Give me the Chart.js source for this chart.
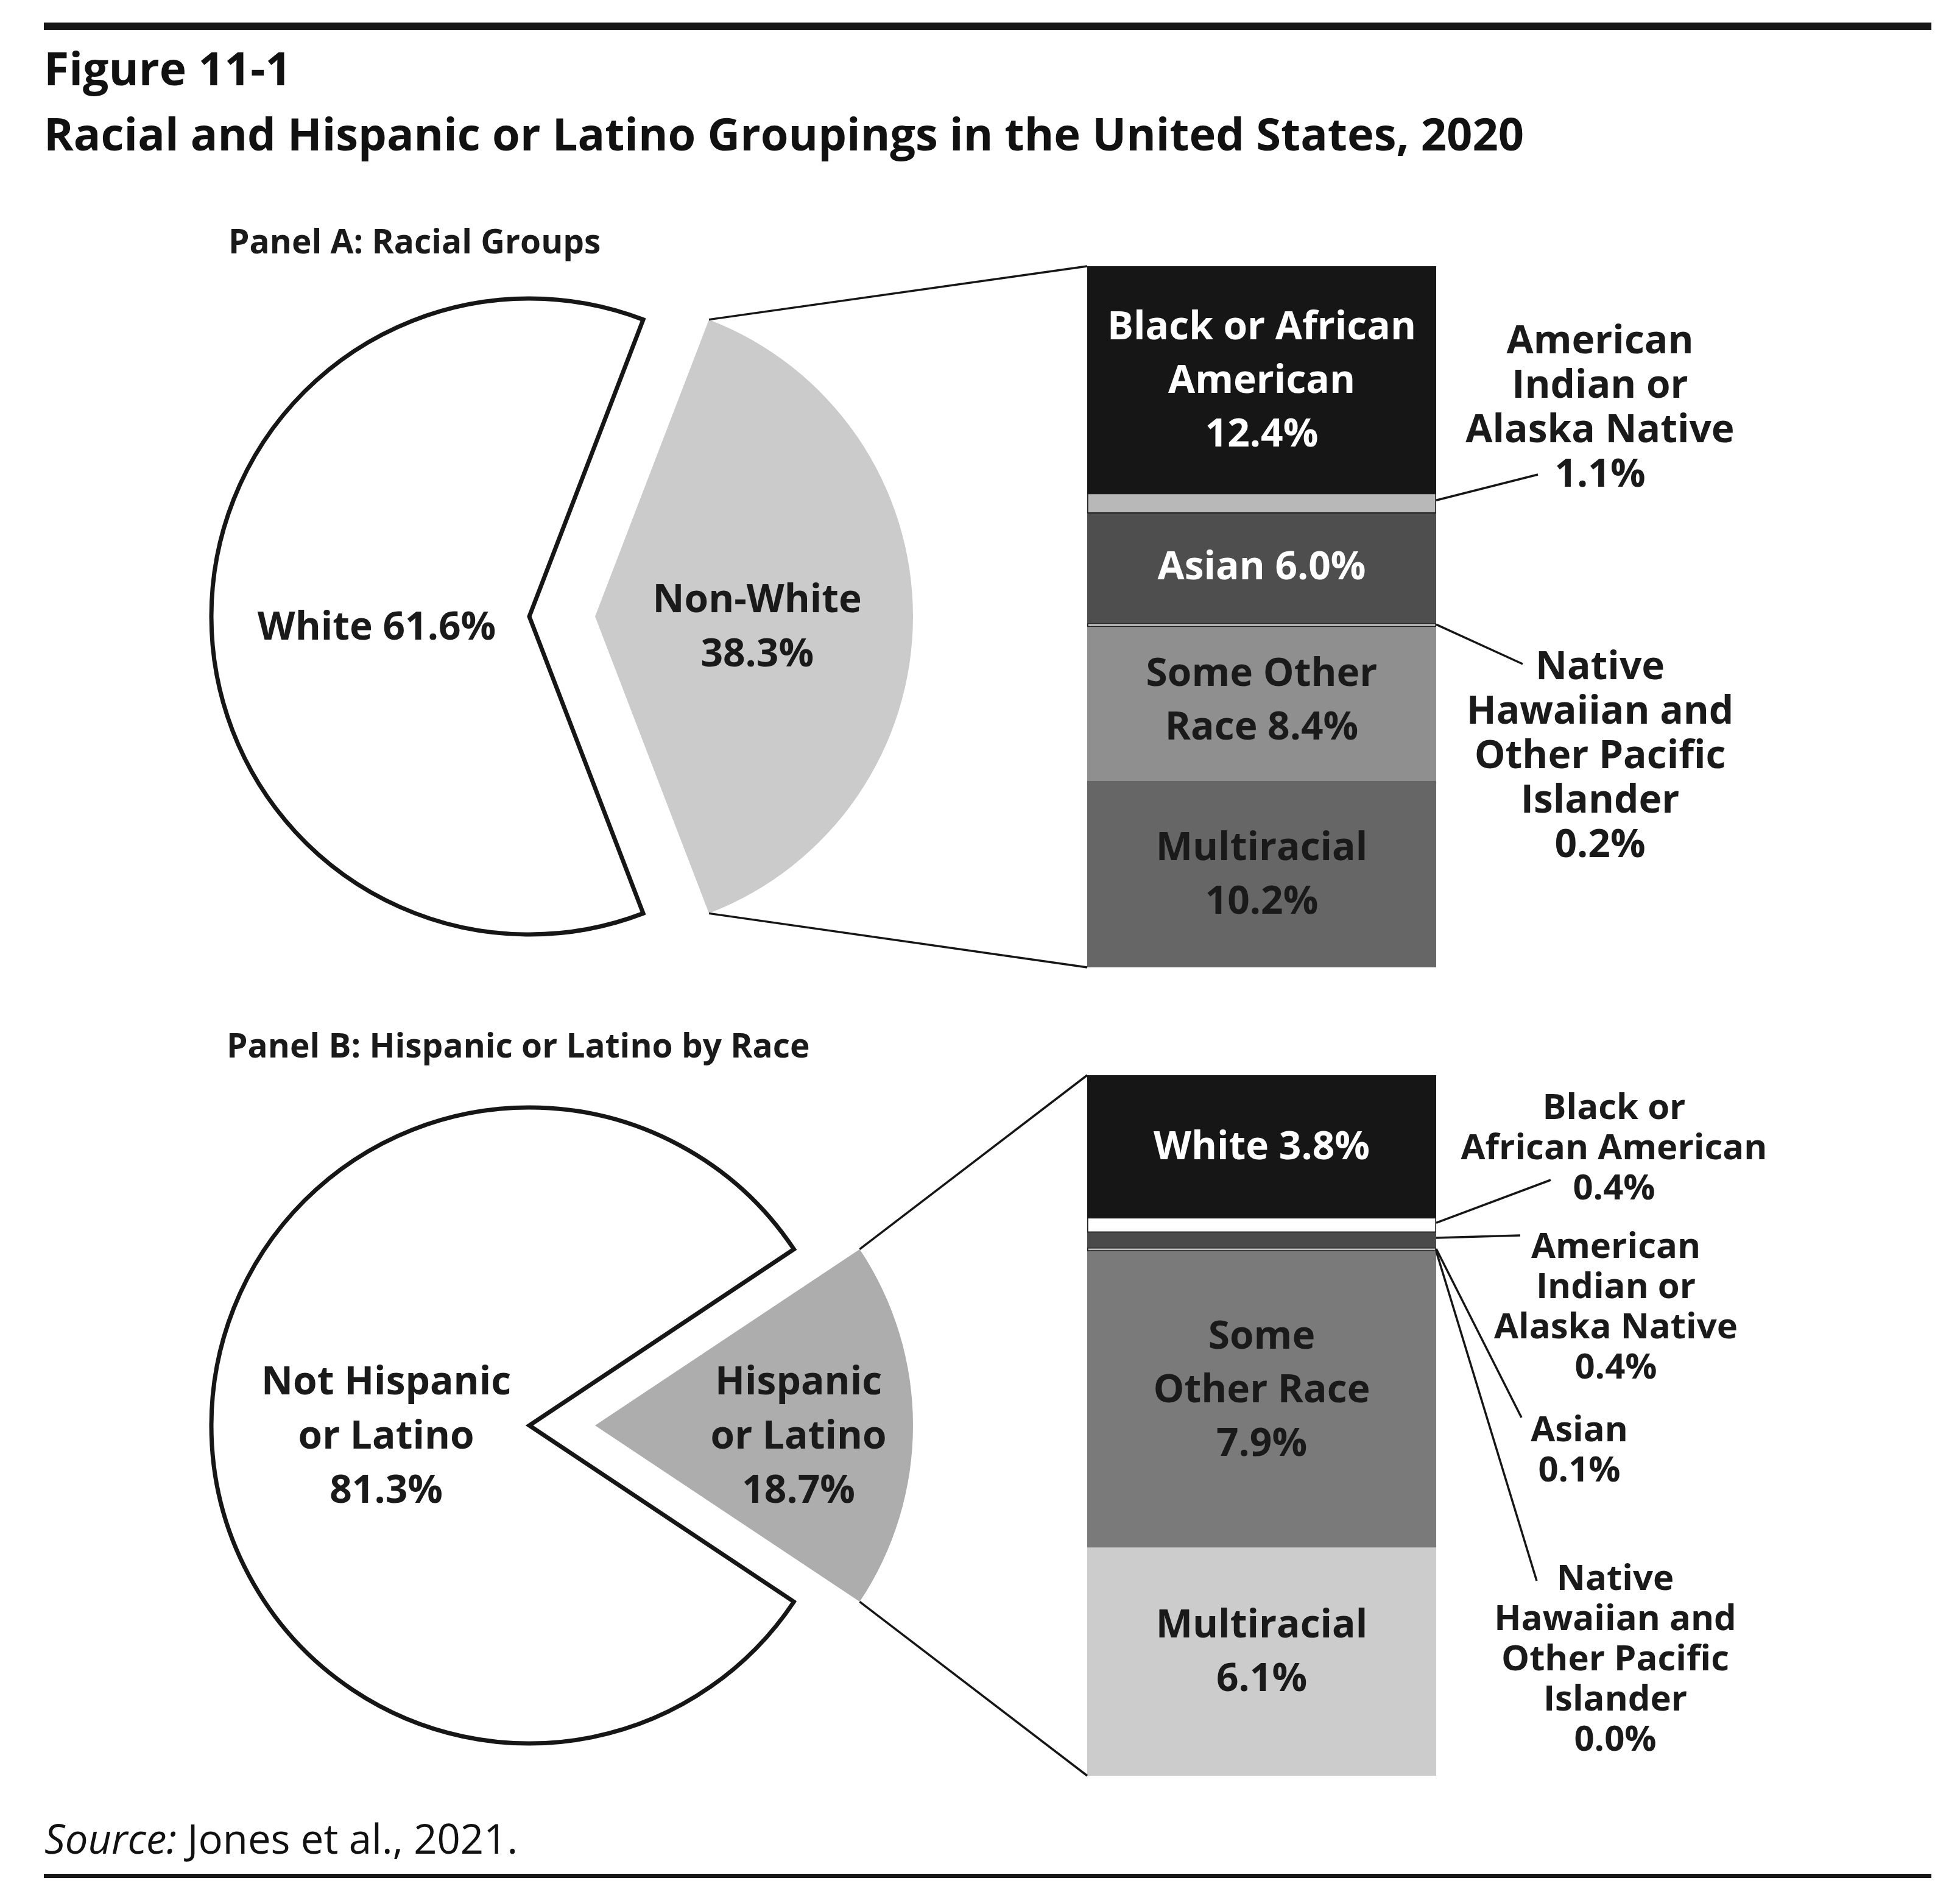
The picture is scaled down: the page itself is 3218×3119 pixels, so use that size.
<!DOCTYPE html>
<html>
<head>
<meta charset="utf-8">
<script src="https://cdn.jsdelivr.net/npm/chart.js@4.4.1/dist/chart.umd.min.js"></script>
<style>
  html, body { margin: 0; padding: 0; background: #fff; }
  body { width: 3218px; height: 3119px; position: relative; overflow: hidden;
         font-family: "Open Sans", "Noto Sans", sans-serif; color: #1a1a1a; }
  canvas { position: absolute; }
  .rule { position: absolute; left: 72px; width: 3099px; background: #161616; }
  .txt { position: absolute; white-space: pre; z-index: 5; }
</style>
</head>
<body>
<div class="rule" style="top:37px;height:12px"></div>
<div class="rule" style="top:3076px;height:7px"></div>

<canvas id="barA" width="573" height="1151" style="left:1785px;top:437px"></canvas>
<canvas id="barB" width="573" height="1150" style="left:1785px;top:1765px"></canvas>
<canvas id="overlay" width="3218" height="3119" style="left:0;top:0;z-index:3"></canvas>

<script>
// ---- data (percent of US population, 2020) ----
const raceGroups = ["White", "Non-White"];
const raceShares = [61.6, 38.3];

const nonWhiteGroups = ["Black or African American", "American Indian or Alaska Native", "Asian",
  "Native Hawaiian and Other Pacific Islander", "Some Other Race", "Multiracial"];
const nonWhiteShares = [12.4, 1.1, 6.0, 0.2, 8.4, 10.2];

const ethnicityGroups = ["Not Hispanic or Latino", "Hispanic or Latino"];
const ethnicityShares = [81.3, 18.7];

const hispanicRaceGroups = ["White", "Black or African American", "American Indian or Alaska Native", "Asian",
  "Native Hawaiian and Other Pacific Islander", "Some Other Race", "Multiracial"];
const hispanicRaceShares = [3.8, 0.4, 0.4, 0.1, 0.0, 7.9, 6.1];

// label text, broken into lines as printed ({v} = value)
const raceLabelLines = [["White {v}"], ["Non-White", "{v}"]];
const nonWhiteLabelLines = [["Black or African", "American", "{v}"], ["American", "Indian or", "Alaska Native", "{v}"],
  ["Asian {v}"], ["Native", "Hawaiian and", "Other Pacific", "Islander", "{v}"], ["Some Other", "Race {v}"], ["Multiracial", "{v}"]];
const ethnicityLabelLines = [["Not Hispanic", "or Latino", "{v}"], ["Hispanic", "or Latino", "{v}"]];
const hispanicRaceLabelLines = [["White {v}"], ["Black or", "African American", "{v}"], ["American", "Indian or", "Alaska Native", "{v}"],
  ["Asian", "{v}"], ["Native", "Hawaiian and", "Other Pacific", "Islander", "{v}"], ["Some", "Other Race", "{v}"], ["Multiracial", "{v}"]];

// ---- styling / layout ----
const panelA = {
  pie: { cx: 923, cy: 1012, size: 1160, fills: ["#ffffff", "#cbcbcb"], borders: [7, 0], radius: 522, shift: 54, labelAt: [0.48, 0.51] },
  bar: { canvas: "barA", fills: ["#161616", "#b8b8b8", "#4e4e4e", "#dddddd", "#8f8f8f", "#666666"],
         edges: [0, 2, 0, 2, 0, 0], ink: ["#fff", null, "#fff", null, "#1a1a1a", "#1a1a1a"], lift: [0, 0, 4, 0, 7, 1] },
  callouts: { 1: { tx: 269, ty: 230, ex: 167, ey: 342 }, 3: { tx: 269, ty: 801, ex: 142, ey: 653 } },
  calloutSize: 64, calloutLead: 73
};
const panelB = {
  pie: { cx: 923, cy: 2340, size: 1160, fills: ["#ffffff", "#adadad"], borders: [7, 0], radius: 522, shift: 54, labelAt: [0.45, 0.64] },
  bar: { canvas: "barB", fills: ["#161616", "#ffffff", "#4a4a4a", "#bdbdbd", "#999999", "#7a7a7a", "#cccccc"],
         edges: [0, 2, 0, 2, 0, 0, 0], ink: ["#fff", null, null, null, null, "#1a1a1a", "#1a1a1a"], lift: [1, 0, 0, 0, 0, 17, 17] },
  callouts: { 1: { tx: 292, ty: 118, ex: 188, ey: 172 }, 2: { tx: 295, ty: 379, ex: 138, ey: 263 },
              3: { tx: 235, ty: 614, ex: 140, ey: 562 }, 4: { tx: 294, ty: 957, ex: 165, ey: 830 } },
  calloutSize: 58, calloutLead: 66
};
const LABEL_WEIGHT = 700;

const CAP = 0.714, MID = 0.388;   // Open Sans cap height, baseline offset
const sum = a => a.reduce((s, v) => s + v, 0);
const fmt = v => v.toFixed(1) + "%";
const fillLines = (lines, v) => lines.map(s => s.replace("{v}", fmt(v)));

function addText(lines, o) {
  const d = document.createElement("div");
  d.className = "txt";
  const lh = o.lh || o.size * 1.2;
  let b1 = o.baseline;
  if (b1 === undefined) b1 = o.cy - ((lines.length - 1) * lh - CAP * o.size) / 2;
  d.style.top = (b1 - lh / 2 - MID * o.size) + "px";
  d.style.left = o.x + "px";
  d.style.fontSize = o.size + "px";
  d.style.lineHeight = lh + "px";
  d.style.fontWeight = o.weight || LABEL_WEIGHT;
  d.style.color = o.color || "#1a1a1a";
  if (o.align !== "left") { d.style.transform = "translateX(-50%)"; d.style.textAlign = "center"; }
  if (o.html) d.innerHTML = o.html; else d.textContent = lines.join("\n");
  document.body.appendChild(d);
}

// exploded pie: one chart per slice, each placed at its own pulled-out centre
function makePieSlices(cfg, labels, values) {
  const total = sum(values);
  const rotation = 90 - (values[0] + values[1] / 2) / total * 360;
  let cum = 0;
  return values.map((v, i) => {
    const mid = ((rotation + (cum + v / 2) / total * 360) - 90) * Math.PI / 180;
    cum += v;
    const cv = document.createElement("canvas");
    cv.width = cfg.size; cv.height = cfg.size;
    cv.style.left = (cfg.cx + Math.cos(mid) * cfg.shift - cfg.size / 2) + "px";
    cv.style.top = (cfg.cy + Math.sin(mid) * cfg.shift - cfg.size / 2) + "px";
    document.body.insertBefore(cv, document.getElementById("overlay"));
    return new Chart(cv, {
      type: "pie",
      data: {
        labels: labels,
        datasets: [{
          data: values,
          backgroundColor: values.map((_, j) => j === i ? cfg.fills[j] : "rgba(0,0,0,0)"),
          borderColor: "#161616",
          borderWidth: values.map((_, j) => j === i ? cfg.borders[j] : 0),
          borderJoinStyle: "miter",
          hoverOffset: 0
        }]
      },
      options: {
        responsive: false, animation: false, events: [],
        rotation: rotation,
        radius: cfg.radius,
        layout: { padding: 0 },
        plugins: { legend: { display: false }, tooltip: { enabled: false } }
      }
    });
  });
}

function makeBar(cfg, labels, values) {
  return new Chart(document.getElementById(cfg.canvas), {
    type: "bar",
    data: {
      labels: [""],
      datasets: values.map((v, i) => ({
        label: labels[i],
        data: [v],
        backgroundColor: cfg.fills[i],
        borderColor: "#222222",
        borderWidth: cfg.edges[i],
        borderSkipped: false,
        categoryPercentage: 1,
        barPercentage: 1
      }))
    },
    options: {
      responsive: false, animation: false, events: [],
      layout: { padding: 0 },
      plugins: { legend: { display: false }, tooltip: { enabled: false } },
      scales: {
        x: { display: false, stacked: true },
        y: { display: false, stacked: true, reverse: true, min: 0, max: sum(values) }
      }
    }
  });
}

const overlay = document.getElementById("overlay").getContext("2d");
function stroke(x1, y1, x2, y2, w) {
  overlay.beginPath();
  overlay.moveTo(x1, y1);
  overlay.lineTo(x2, y2);
  overlay.lineWidth = w;
  overlay.strokeStyle = "#161616";
  overlay.stroke();
}

function drawPanel(p, pieLabels, pieValues, pieLines, barLabels, barValues, barLines) {
  const pies = makePieSlices(p.pie, pieLabels, pieValues);
  const bar = makeBar(p.bar, barLabels, barValues);
  const bc = bar.canvas;

  // pie slice labels + the pulled-out slice's outer corners
  let corners = [];
  pies.forEach((pie, i) => {
    const el = pie.getDatasetMeta(0).data[i];
    const pc = pie.canvas;
    const mid = (el.startAngle + el.endAngle) / 2;
    const cx = pc.offsetLeft + el.x, cy = pc.offsetTop + el.y;
    const r = el.outerRadius;
    addText(fillLines(pieLines[i], pieValues[i]), {
      x: cx + Math.cos(mid) * r * p.pie.labelAt[i],
      cy: cy + Math.sin(mid) * r * p.pie.labelAt[i] + 15,
      size: 64, lh: 89
    });
    if (i === 1) {
      corners = [el.startAngle, el.endAngle].map(a => ({ x: cx + Math.cos(a) * r, y: cy + Math.sin(a) * r }))
        .sort((a, b) => a.y - b.y);
    }
  });

  // bar geometry from the y scale
  const ys = bar.scales.y;
  const top = bc.offsetTop + ys.getPixelForValue(0);
  const bottom = bc.offsetTop + ys.getPixelForValue(sum(barValues));
  const first = bar.getDatasetMeta(0).data[0];
  const left = bc.offsetLeft + first.x - first.width / 2;
  const right = bc.offsetLeft + first.x + first.width / 2;

  stroke(corners[0].x, corners[0].y, left, top, 3.5);
  stroke(corners[1].x, corners[1].y, left, bottom, 3.5);

  barValues.forEach((v, i) => {
    const el = bar.getDatasetMeta(i).data[0];
    const sTop = bc.offsetTop + Math.min(el.y, el.base);
    const sBot = bc.offsetTop + Math.max(el.y, el.base);
    if (p.bar.ink[i]) {
      addText(fillLines(barLines[i], v), {
        x: bc.offsetLeft + el.x, cy: (sTop + sBot) / 2 - p.bar.lift[i],
        size: 64, lh: 88, color: p.bar.ink[i]
      });
    }
    const c = p.callouts[i];
    if (c) {
      stroke(right, sTop + (sBot - sTop) * 0.35, right + c.ex, top + c.ey, 3.5);
      addText(fillLines(barLines[i], v), {
        x: right + c.tx, cy: top + c.ty, size: p.calloutSize, lh: p.calloutLead
      });
    }
  });
}

drawPanel(panelA, raceGroups, raceShares, raceLabelLines, nonWhiteGroups, nonWhiteShares, nonWhiteLabelLines);
drawPanel(panelB, ethnicityGroups, ethnicityShares, ethnicityLabelLines, hispanicRaceGroups, hispanicRaceShares, hispanicRaceLabelLines);

// headings and source
addText(["Figure 11-1"], { x: 72, baseline: 140, size: 75, weight: 700, align: "left", color: "#111" });
addText(["Racial and Hispanic or Latino Groupings in the United States, 2020"],
  { x: 72, baseline: 248, size: 74, weight: 700, align: "left", color: "#111" });
addText(["Panel A: Racial Groups"], { x: 375, baseline: 416, size: 55, weight: 700, align: "left" });
addText(["Panel B: Hispanic or Latino by Race"], { x: 372, baseline: 1736, size: 55, weight: 700, align: "left" });
addText([""], { x: 73, baseline: 3043, size: 67, weight: 400, align: "left", color: "#111",
  html: "<i>Source:</i> Jones et al., 2021." });
</script>
</body>
</html>
